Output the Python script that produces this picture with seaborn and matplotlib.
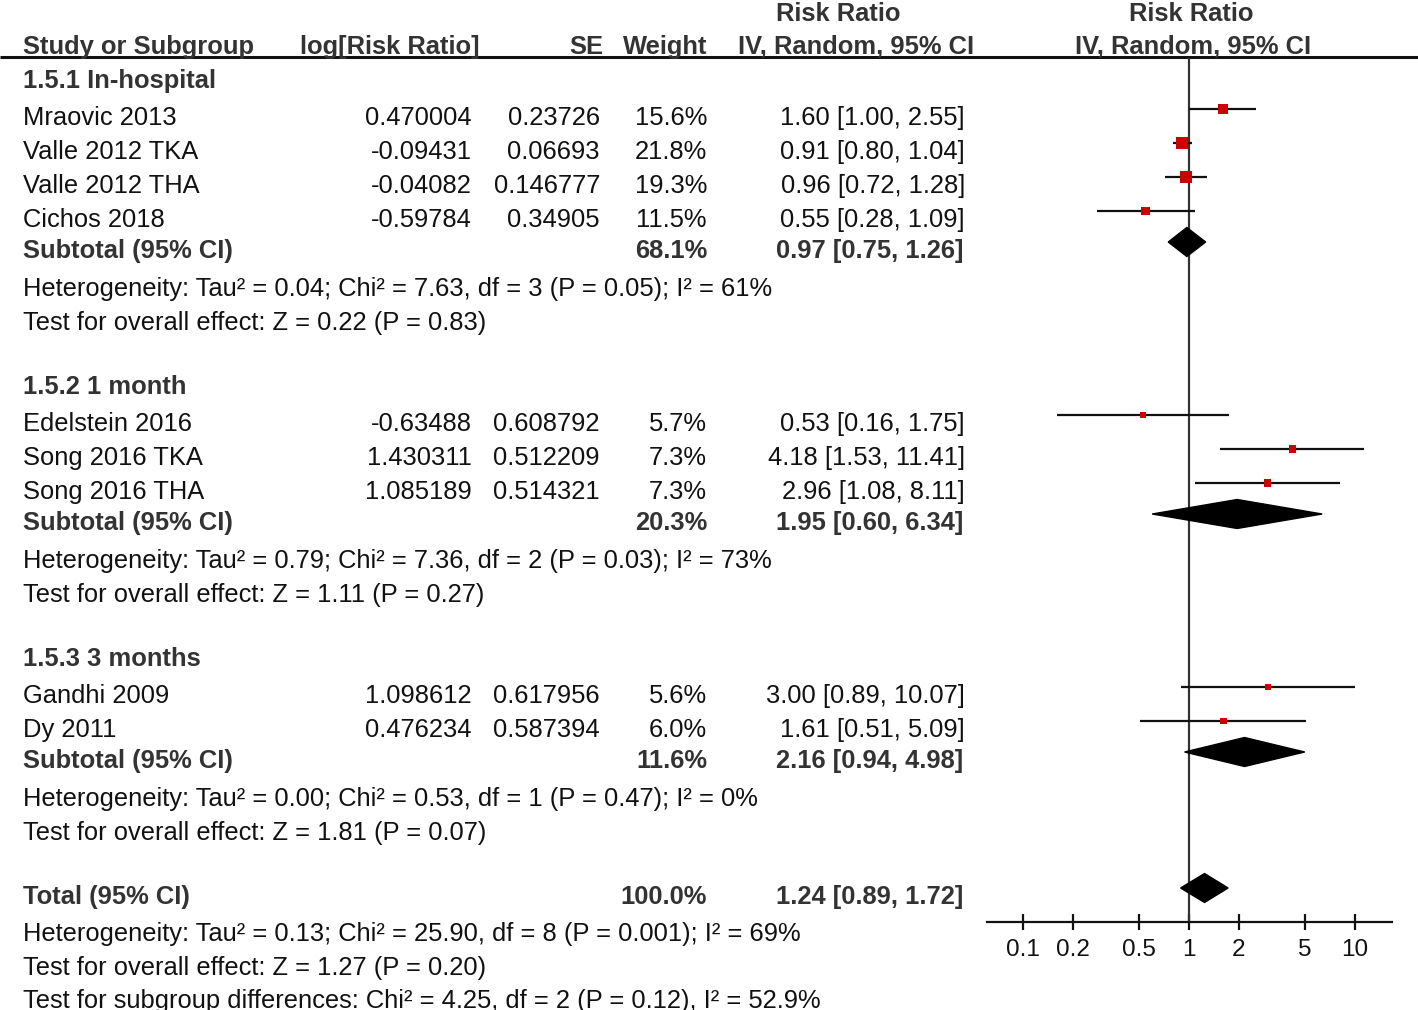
import numpy as np
import pandas as pd
import matplotlib
matplotlib.use("Agg")
import matplotlib.pyplot as plt
from matplotlib.patches import Polygon
import seaborn as sns

# study level data
studies = ["Mraovic 2013", "Valle 2012 TKA", "Valle 2012 THA", "Cichos 2018",
           "Edelstein 2016", "Song 2016 TKA", "Song 2016 THA",
           "Gandhi 2009", "Dy 2011"]
study_group = [0, 0, 0, 0, 1, 1, 1, 2, 2]
log_rr = ["0.470004", "-0.09431", "-0.04082", "-0.59784", "-0.63488",
          "1.430311", "1.085189", "1.098612", "0.476234"]
se = ["0.23726", "0.06693", "0.146777", "0.34905", "0.608792",
      "0.512209", "0.514321", "0.617956", "0.587394"]
weight = [15.6, 21.8, 19.3, 11.5, 5.7, 7.3, 7.3, 5.6, 6.0]
rr = [1.60, 0.91, 0.96, 0.55, 0.53, 4.18, 2.96, 3.00, 1.61]
rr_lo = [1.00, 0.80, 0.72, 0.28, 0.16, 1.53, 1.08, 0.89, 0.51]
rr_hi = [2.55, 1.04, 1.28, 1.09, 1.75, 11.41, 8.11, 10.07, 5.09]

# subgroup data
groups = ["1.5.1 In-hospital", "1.5.2 1 month", "1.5.3 3 months"]
sub_weight = [68.1, 20.3, 11.6]
sub_rr = [0.97, 1.95, 2.16]
sub_lo = [0.75, 0.60, 0.94]
sub_hi = [1.26, 6.34, 4.98]
sub_het = ["Heterogeneity: Tau² = 0.04; Chi² = 7.63, df = 3 (P = 0.05); I² = 61%",
           "Heterogeneity: Tau² = 0.79; Chi² = 7.36, df = 2 (P = 0.03); I² = 73%",
           "Heterogeneity: Tau² = 0.00; Chi² = 0.53, df = 1 (P = 0.47); I² = 0%"]
sub_test = ["Test for overall effect: Z = 0.22 (P = 0.83)",
            "Test for overall effect: Z = 1.11 (P = 0.27)",
            "Test for overall effect: Z = 1.81 (P = 0.07)"]

# overall
total_weight = 100.0
total_rr, total_lo, total_hi = 1.24, 0.89, 1.72
total_het = "Heterogeneity: Tau² = 0.13; Chi² = 25.90, df = 8 (P = 0.001); I² = 69%"
total_test = "Test for overall effect: Z = 1.27 (P = 0.20)"
subgroup_diff = "Test for subgroup differences: Chi² = 4.25, df = 2 (P = 0.12), I² = 52.9%"

tick_vals = [0.1, 0.2, 0.5, 1, 2, 5, 10]
tick_labels = ["0.1", "0.2", "0.5", "1", "2", "5", "10"]

# ---- layout (pixel rows) ----
W, H = 1418, 1010
row_h = 34
group_start = [79, 385, 657]
total_y = 895
mark_off = -7          # graphics sit a little above text centre
axis_y, top_y = 922, 58
ax_left, ax_right = 987, 1392

sns.set_theme(style="white")
plt.rcParams["font.family"] = ["Liberation Sans", "DejaVu Sans"]

fig = plt.figure(figsize=(W / 100, H / 100), dpi=100)
fig.patch.set_facecolor("white")

ax_t = fig.add_axes([0, 0, 1, 1])
ax_t.set_xlim(0, W)
ax_t.set_ylim(H, 0)
ax_t.axis("off")

FS = 18.4
TXT = "#111111"
BOLD = "#333333"


def put(x, y, s, ha="left", bold=False, size=FS):
    ax_t.text(x, y + 9, s, ha=ha, va="baseline", fontsize=size,
              fontweight="bold" if bold else "normal",
              color=BOLD if bold else TXT)


def ci_text(m, lo, hi):
    return f"{m:.2f} [{lo:.2f}, {hi:.2f}]"


# header
put(838, 12, "Risk Ratio", ha="center", bold=True)
put(1191, 12, "Risk Ratio", ha="center", bold=True)
put(23, 45, "Study or Subgroup", bold=True)
put(300, 45, "log[Risk Ratio]", bold=True)
put(603, 45, "SE", ha="right", bold=True)
put(707, 45, "Weight", ha="right", bold=True)
put(738, 45, "IV, Random, 95% CI", bold=True)
put(1075, 45, "IV, Random, 95% CI", bold=True)
ax_t.plot([0, W], [57, 57], color="#111111", lw=2.2, solid_capstyle="butt")

# rows
study_y = []
sub_y = []
for g, name in enumerate(groups):
    y = group_start[g]
    put(23, y, name, bold=True)
    idx = [i for i, sg in enumerate(study_group) if sg == g]
    for k, i in enumerate(idx):
        yy = y + (k + 1) * row_h + 3
        study_y.append(yy)
        put(23, yy, studies[i])
        put(472, yy, log_rr[i], ha="right")
        put(600, yy, se[i], ha="right")
        put(707, yy, f"{weight[i]:.1f}%", ha="right")
        put(965, yy, ci_text(rr[i], rr_lo[i], rr_hi[i]), ha="right")
    ys = study_y[-1] + 31
    sub_y.append(ys)
    put(23, ys, "Subtotal (95% CI)", bold=True)
    put(707, ys, f"{sub_weight[g]:.1f}%", ha="right", bold=True)
    put(963, ys, ci_text(sub_rr[g], sub_lo[g], sub_hi[g]), ha="right", bold=True)
    put(23, ys + 38, sub_het[g])
    put(23, ys + 72, sub_test[g])

put(23, total_y, "Total (95% CI)", bold=True)
put(707, total_y, f"{total_weight:.1f}%", ha="right", bold=True)
put(963, total_y, ci_text(total_rr, total_lo, total_hi), ha="right", bold=True)
put(23, total_y + 37, total_het)
put(23, total_y + 71, total_test)
put(23, total_y + 104, subgroup_diff)

# ---- forest panel ----
ax_f = fig.add_axes([ax_left / W, (H - axis_y) / H,
                     (ax_right - ax_left) / W, (axis_y - top_y) / H])
ax_f.set_facecolor("none")
ax_f.set_xscale("log")
ax_f.set_xlim(10 ** -1.217, 10 ** 1.223)
ax_f.set_ylim(axis_y, top_y)

ax_f.axvline(1, color="#333333", lw=1.6, zorder=1)

df = pd.DataFrame({"rr": rr, "lo": rr_lo, "hi": rr_hi, "weight": weight,
                   "y": np.array(study_y) + mark_off})
ax_f.hlines(df["y"], df["lo"], df["hi"], color="#111111", lw=1.6, zorder=2)
sns.scatterplot(data=df, x="rr", y="y", size="weight",
                sizes=(3.6 * min(weight), 3.6 * max(weight)),
                size_norm=(min(weight), max(weight)),
                marker="s", color="#cc0000", linewidth=0, legend=False,
                ax=ax_f, zorder=3, clip_on=False)


def diamond(m, lo, hi, y, half=14.5):
    ax_f.add_patch(Polygon([[lo, y], [m, y - half], [hi, y], [m, y + half]],
                           closed=True, color="black", zorder=4))


for g in range(len(groups)):
    diamond(sub_rr[g], sub_lo[g], sub_hi[g], sub_y[g] + mark_off)
diamond(total_rr, total_lo, total_hi, total_y + mark_off)

for s in ["top", "left", "right"]:
    ax_f.spines[s].set_visible(False)
ax_f.spines["bottom"].set_color("#111111")
ax_f.spines["bottom"].set_linewidth(1.6)
ax_f.set_yticks([])
ax_f.set_xticks(tick_vals)
ax_f.set_xticklabels(tick_labels)
ax_f.minorticks_off()
ax_f.tick_params(axis="x", direction="inout", length=12, width=1.6,
                 color="#111111", labelsize=17.5, labelcolor=TXT, pad=6,
                 bottom=True)
ax_f.set_xlabel("")
ax_f.set_ylabel("")

fig.savefig("out.png", dpi=100, facecolor="white")
